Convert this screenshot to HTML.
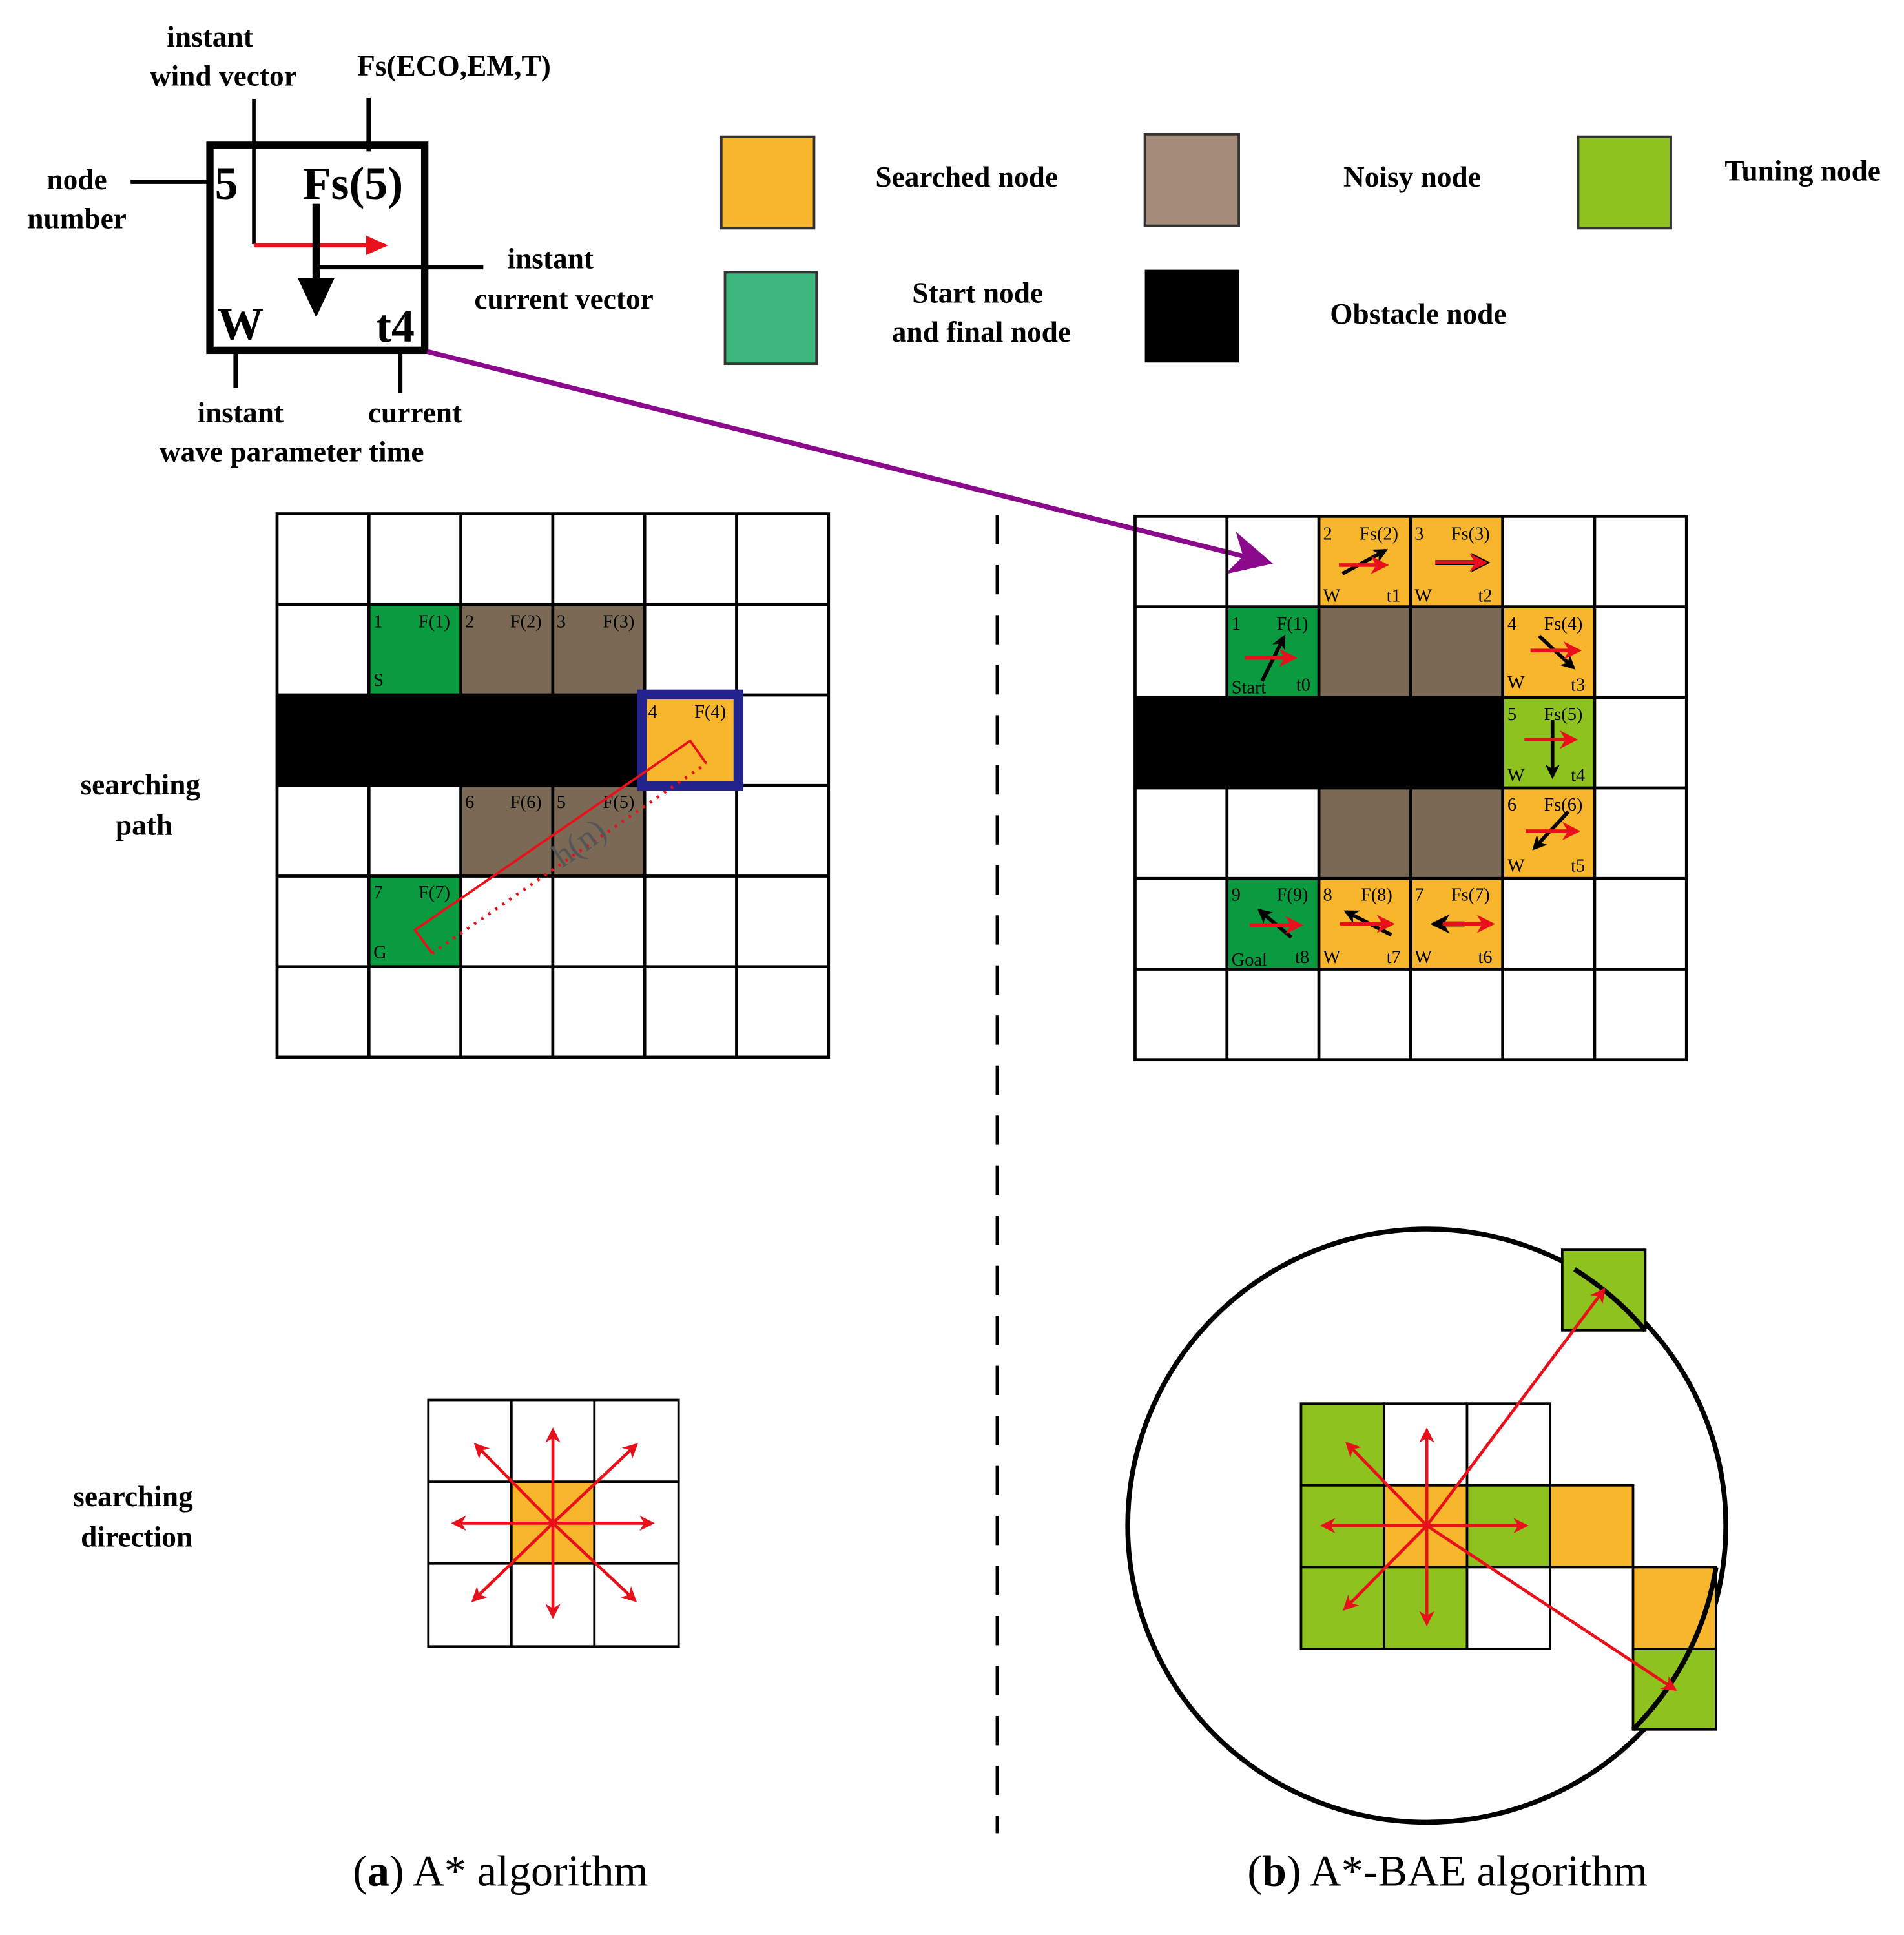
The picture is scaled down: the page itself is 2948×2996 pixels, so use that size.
<!DOCTYPE html>
<html><head><meta charset="utf-8"><style>html,body{margin:0;padding:0;background:#fff}svg{display:block}</style></head>
<body>
<svg xmlns="http://www.w3.org/2000/svg" width="2948" height="2996" viewBox="0 0 1560 1585.4" font-family="Liberation Serif, serif">
<defs>
<marker id="mr" viewBox="0 0 10 10" refX="8" refY="5" markerWidth="5" markerHeight="5" orient="auto"><path d="M0,0 L10,5 L0,10 L3,5 z" fill="#e8101a"/></marker>
<marker id="mb" viewBox="0 0 10 10" refX="8" refY="5" markerWidth="4" markerHeight="4" orient="auto"><path d="M0,0 L10,5 L0,10 L3,5 z" fill="#000"/></marker>
<marker id="mp" viewBox="0 0 10 10" refX="8" refY="5" markerWidth="9" markerHeight="9" orient="auto"><path d="M0,0 L10,5 L0,10 L3,5 z" fill="#8b0a8b"/></marker>
</defs>
<rect width="1560" height="1586" fill="#fff"/>

<!-- top node box -->
<g font-weight="bold" font-size="24">
<text x="172" y="38" text-anchor="middle">instant</text>
<text x="183" y="70" text-anchor="middle">wind vector</text>
<text x="372" y="62" text-anchor="middle">Fs(ECO,EM,T)</text>
<text x="63" y="155" text-anchor="middle">node</text>
<text x="63" y="187" text-anchor="middle">number</text>
<text x="451" y="220" text-anchor="middle">instant</text>
<text x="462" y="253" text-anchor="middle">current vector</text>
<text x="197" y="346" text-anchor="middle">instant</text>
<text x="340" y="346" text-anchor="middle">current</text>
<text x="239" y="378" text-anchor="middle">wave parameter time</text>
</g>
<rect x="172" y="119" width="176" height="168" fill="none" stroke="#000" stroke-width="6"/>
<line x1="107" y1="149" x2="172" y2="149" stroke="#000" stroke-width="3.5"/>
<line x1="208" y1="81" x2="208" y2="200" stroke="#000" stroke-width="3"/>
<line x1="302" y1="80" x2="302" y2="124" stroke="#000" stroke-width="3.5"/>
<line x1="262" y1="219" x2="396" y2="219" stroke="#000" stroke-width="3.5"/>
<line x1="193" y1="285" x2="193" y2="318" stroke="#000" stroke-width="3.5"/>
<line x1="328" y1="289" x2="328" y2="322" stroke="#000" stroke-width="3.5"/>
<line x1="208" y1="201" x2="306" y2="201" stroke="#e8101a" stroke-width="3.5"/>
<path d="M300,193 L318,201 L300,209 z" fill="#e8101a"/>
<line x1="259" y1="167" x2="259" y2="230" stroke="#000" stroke-width="6"/>
<path d="M244,228 L274,228 L259,260 z" fill="#000"/>
<g font-weight="bold" font-size="38">
<text x="176" y="163">5</text>
<text x="248" y="163">Fs(5)</text>
<text x="178" y="278">W</text>
<text x="308" y="280">t4</text>
</g>

<!-- legend -->
<rect x="591" y="112" width="76" height="75" fill="#f8b62d" stroke="#333" stroke-width="2"/>
<rect x="938" y="110" width="77" height="75" fill="#a58c7a" stroke="#333" stroke-width="2"/>
<rect x="1293" y="112" width="76" height="75" fill="#8dc21f" stroke="#333" stroke-width="2"/>
<rect x="594" y="223" width="75" height="75" fill="#3db77e" stroke="#333" stroke-width="2"/>
<rect x="938" y="221" width="77" height="76" fill="#000"/>
<g font-weight="bold" font-size="24">
<text x="792" y="153" text-anchor="middle">Searched node</text>
<text x="1157" y="153" text-anchor="middle">Noisy node</text>
<text x="1477" y="148" text-anchor="middle">Tuning node</text>
<text x="801" y="248" text-anchor="middle">Start node</text>
<text x="804" y="280" text-anchor="middle">and final node</text>
<text x="1162" y="265" text-anchor="middle">Obstacle node</text>
<text x="115" y="651" text-anchor="middle">searching</text>
<text x="118" y="684" text-anchor="middle">path</text>
<text x="109" y="1234" text-anchor="middle">searching</text>
<text x="112" y="1267" text-anchor="middle">direction</text>
</g>

<!-- purple arrow -->
<line x1="350" y1="288" x2="1036" y2="460" stroke="#8b0a8b" stroke-width="4" marker-end="url(#mp)"/>

<!-- dashed divider -->
<line x1="817" y1="422" x2="817" y2="1502" stroke="#000" stroke-width="2.5" stroke-dasharray="24,17"/>

<!-- LEFT GRID -->
<g>
<rect x="302.3" y="495.2" width="75.3" height="74.2" fill="#0a9a3f"/>
<rect x="377.6" y="495.2" width="150.6" height="74.2" fill="#7a6a55"/>
<rect x="377.6" y="643.6" width="150.6" height="74.2" fill="#7a6a55"/>
<rect x="302.3" y="717.8" width="75.3" height="74.2" fill="#0a9a3f"/>
<g stroke="#000" stroke-width="2.5" fill="none">
<rect x="227" y="421" width="451.8" height="445.2"/>
<path d="M302.3,421V866.2M377.6,421V866.2M452.9,421V866.2M528.2,421V866.2M603.5,421V866.2M227,495.2H678.8M227,569.4H678.8M227,643.6H678.8M227,717.8H678.8M227,792H678.8"/>
</g>
<rect x="227" y="569.4" width="301.2" height="74.2" fill="#000"/>
<rect x="526" y="569" width="79" height="75" fill="#f8b62d" stroke="#23238e" stroke-width="8"/>
<g font-size="15">
<text x="306" y="514">1</text><text x="343" y="514">F(1)</text>
<text x="306" y="562">S</text>
<text x="381" y="514">2</text><text x="418" y="514">F(2)</text>
<text x="456" y="514">3</text><text x="494" y="514">F(3)</text>
<text x="531" y="588">4</text><text x="569" y="588">F(4)</text>
<text x="381" y="662">6</text><text x="418" y="662">F(6)</text>
<text x="456" y="662">5</text><text x="494" y="662">F(5)</text>
<text x="306" y="736">7</text><text x="343" y="736">F(7)</text>
<text x="306" y="785">G</text>
</g>
<path d="M354,781 L340,762 L565.5,607 L578.7,625.6" fill="none" stroke="#e8101a" stroke-width="2"/>
<line x1="354" y1="781" x2="578.7" y2="625.6" stroke="#e8101a" stroke-width="2.5" stroke-dasharray="2,5"/>
<text x="474" y="700" font-size="28" fill="#555" text-anchor="middle" transform="rotate(-35 474 690)">h(n)</text>
</g>

<!-- RIGHT GRID -->
<g>
<rect x="1080.6" y="423" width="150.6" height="74.2" fill="#f8b62d"/>
<rect x="1005.3" y="497.2" width="75.3" height="74.2" fill="#0a9a3f"/>
<rect x="1080.6" y="497.2" width="150.6" height="74.2" fill="#7a6a55"/>
<rect x="1231.2" y="497.2" width="75.3" height="74.2" fill="#f8b62d"/>
<rect x="1231.2" y="571.4" width="75.3" height="74.2" fill="#8dc21f"/>
<rect x="1080.6" y="645.6" width="150.6" height="74.2" fill="#7a6a55"/>
<rect x="1231.2" y="645.6" width="75.3" height="74.2" fill="#f8b62d"/>
<rect x="1005.3" y="719.8" width="75.3" height="74.2" fill="#0a9a3f"/>
<rect x="1080.6" y="719.8" width="150.6" height="74.2" fill="#f8b62d"/>
<g stroke="#000" stroke-width="2.5" fill="none">
<rect x="930" y="423" width="451.8" height="445.2"/>
<path d="M1005.3,423V868.2M1080.6,423V868.2M1155.9,423V868.2M1231.2,423V868.2M1306.5,423V868.2M930,497.2H1381.8M930,571.4H1381.8M930,645.6H1381.8M930,719.8H1381.8M930,794H1381.8"/>
</g>
<rect x="930" y="571.4" width="301.2" height="74.2" fill="#000"/>
<g font-size="15">
<text x="1084" y="442">2</text><text x="1114" y="442">Fs(2)</text><text x="1084" y="493">W</text><text x="1136" y="493">t1</text>
<text x="1159" y="442">3</text><text x="1189" y="442">Fs(3)</text><text x="1159" y="493">W</text><text x="1211" y="493">t2</text>
<text x="1009" y="516">1</text><text x="1046" y="516">F(1)</text><text x="1009" y="568">Start</text><text x="1062" y="566">t0</text>
<text x="1235" y="516">4</text><text x="1265" y="516">Fs(4)</text><text x="1235" y="564">W</text><text x="1287" y="566">t3</text>
<text x="1235" y="590">5</text><text x="1265" y="590">Fs(5)</text><text x="1235" y="640">W</text><text x="1287" y="640">t4</text>
<text x="1235" y="664">6</text><text x="1265" y="664">Fs(6)</text><text x="1235" y="714">W</text><text x="1287" y="714">t5</text>
<text x="1009" y="738">9</text><text x="1046" y="738">F(9)</text><text x="1009" y="791">Goal</text><text x="1061" y="789">t8</text>
<text x="1084" y="738">8</text><text x="1115" y="738">F(8)</text><text x="1084" y="789">W</text><text x="1136" y="789">t7</text>
<text x="1159" y="738">7</text><text x="1189" y="738">Fs(7)</text><text x="1159" y="789">W</text><text x="1211" y="789">t6</text>
</g>
<g stroke-width="3">
<line x1="1100" y1="470" x2="1135" y2="451" stroke="#000" marker-end="url(#mb)"/>
<line x1="1097" y1="463" x2="1135" y2="463" stroke="#e8101a" marker-end="url(#mr)"/>
<line x1="1176" y1="461" x2="1218" y2="461" stroke="#000" stroke-width="4" marker-end="url(#mb)"/>
<line x1="1176" y1="461" x2="1216" y2="461" stroke="#e8101a" marker-end="url(#mr)"/>
<line x1="1034" y1="558" x2="1052" y2="522" stroke="#000" marker-end="url(#mb)"/>
<line x1="1020" y1="539" x2="1060" y2="539" stroke="#e8101a" marker-end="url(#mr)"/>
<line x1="1261" y1="521" x2="1289" y2="547" stroke="#000" marker-end="url(#mb)"/>
<line x1="1254" y1="533" x2="1293" y2="533" stroke="#e8101a" marker-end="url(#mr)"/>
<line x1="1272" y1="590" x2="1272" y2="636" stroke="#000" marker-end="url(#mb)"/>
<line x1="1249" y1="606" x2="1290" y2="606" stroke="#e8101a" marker-end="url(#mr)"/>
<line x1="1285" y1="665" x2="1257" y2="695" stroke="#000" marker-end="url(#mb)"/>
<line x1="1250" y1="681" x2="1292" y2="681" stroke="#e8101a" marker-end="url(#mr)"/>
<line x1="1058" y1="768" x2="1032" y2="746" stroke="#000" marker-end="url(#mb)"/>
<line x1="1024" y1="758" x2="1065" y2="758" stroke="#e8101a" marker-end="url(#mr)"/>
<line x1="1140" y1="766" x2="1103" y2="747" stroke="#000" marker-end="url(#mb)"/>
<line x1="1098" y1="757" x2="1140" y2="757" stroke="#e8101a" marker-end="url(#mr)"/>
<line x1="1200" y1="757" x2="1175" y2="757" stroke="#000" stroke-width="4" marker-end="url(#mb)"/>
<line x1="1182" y1="757" x2="1222" y2="757" stroke="#e8101a" marker-end="url(#mr)"/>
</g>
</g>

<!-- bottom left direction grid -->
<rect x="419" y="1214" width="68" height="67" fill="#f8b62d"/>
<g stroke="#000" stroke-width="2" fill="none">
<rect x="351" y="1147" width="205" height="202"/>
<path d="M419,1147V1349M487,1147V1349M351,1214H556M351,1281H556"/>
</g>
<g stroke="#e8101a" stroke-width="2.5" marker-end="url(#mr)">
<line x1="453" y1="1248" x2="453" y2="1172"/>
<line x1="453" y1="1248" x2="453" y2="1324"/>
<line x1="453" y1="1248" x2="372" y2="1248"/>
<line x1="453" y1="1248" x2="534" y2="1248"/>
<line x1="453" y1="1248" x2="390" y2="1184"/>
<line x1="453" y1="1248" x2="521" y2="1184"/>
<line x1="453" y1="1248" x2="388" y2="1311"/>
<line x1="453" y1="1248" x2="520" y2="1311"/>
</g>

<!-- bottom right -->
<ellipse cx="1169" cy="1250" rx="245" ry="243" fill="none" stroke="#000" stroke-width="4"/>
<g stroke="#000" stroke-width="2">
<rect x="1066" y="1150" width="68" height="67" fill="#8dc21f"/>
<rect x="1134" y="1150" width="68" height="67" fill="#fff"/>
<rect x="1202" y="1150" width="68" height="67" fill="#fff"/>
<rect x="1066" y="1217" width="68" height="67" fill="#8dc21f"/>
<rect x="1134" y="1217" width="68" height="67" fill="#f8b62d"/>
<rect x="1202" y="1217" width="68" height="67" fill="#8dc21f"/>
<rect x="1270" y="1217" width="68" height="67" fill="#f8b62d"/>
<rect x="1066" y="1284" width="68" height="67" fill="#8dc21f"/>
<rect x="1134" y="1284" width="68" height="67" fill="#8dc21f"/>
<rect x="1202" y="1284" width="68" height="67" fill="#fff"/>
<rect x="1338" y="1284" width="68" height="67" fill="#f8b62d"/>
<rect x="1338" y="1351" width="68" height="66" fill="#8dc21f"/>
<rect x="1280" y="1024" width="68" height="66" fill="#8dc21f"/>
</g>
<path d="M1270,1284 V1351 M1338,1284 V1417" stroke="none"/>
<path d="M1406,1284 A245,243 0 0 1 1338,1417" fill="none" stroke="#000" stroke-width="4"/>
<path d="M1290,1040 A245,243 0 0 1 1348,1090" fill="none" stroke="#000" stroke-width="4"/>
<g stroke="#e8101a" stroke-width="2.5" marker-end="url(#mr)">
<line x1="1169" y1="1250" x2="1169" y2="1172"/>
<line x1="1169" y1="1250" x2="1169" y2="1330"/>
<line x1="1169" y1="1250" x2="1084" y2="1250"/>
<line x1="1169" y1="1250" x2="1250" y2="1250"/>
<line x1="1169" y1="1250" x2="1104" y2="1183"/>
<line x1="1169" y1="1250" x2="1102" y2="1318"/>
<line x1="1169" y1="1250" x2="1314" y2="1057"/>
<line x1="1169" y1="1250" x2="1372" y2="1384"/>
</g>

<!-- captions -->
<text x="410" y="1545" font-size="36" text-anchor="middle">(<tspan font-weight="bold">a</tspan>) A* algorithm</text>
<text x="1186" y="1545" font-size="36" text-anchor="middle">(<tspan font-weight="bold">b</tspan>) A*-BAE algorithm</text>
</svg>
</body></html>
